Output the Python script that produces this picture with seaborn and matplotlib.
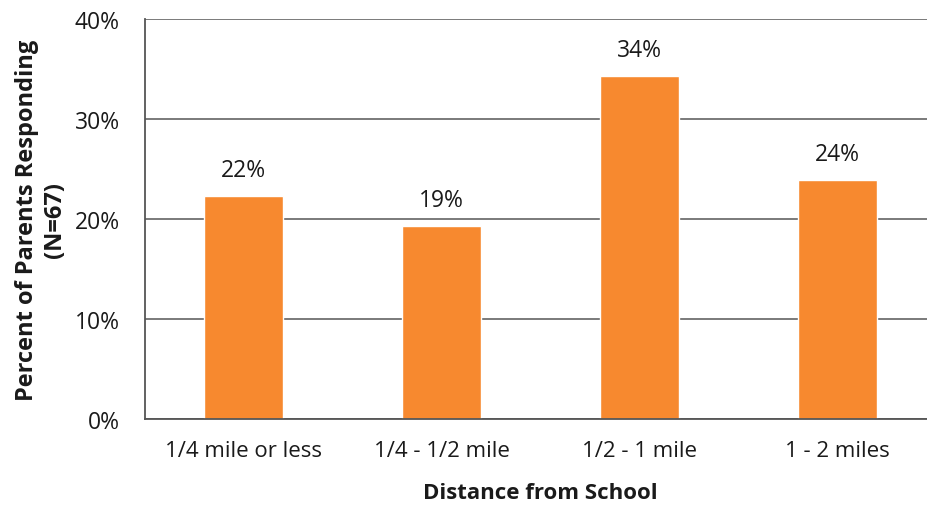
import matplotlib
matplotlib.use("Agg")
import matplotlib.pyplot as plt
import seaborn as sns
import pandas as pd

# Data
categories = ["1/4 mile or less", "1/4 - 1/2 mile", "1/2 - 1 mile", "1 - 2 miles"]
percents = [22.3, 19.3, 34.3, 23.9]
labels = ["22%", "19%", "34%", "24%"]
yticks = [0, 10, 20, 30, 40]

df = pd.DataFrame({"distance": categories, "percent": percents})

sns.set_theme(style="white")
plt.rcParams["font.family"] = ["Open Sans", "DejaVu Sans"]

fig = plt.figure(figsize=(9.27, 5.06), dpi=100)
ax = fig.add_axes([0.1564, 0.170, 0.8533, 0.7905])

sns.barplot(data=df, x="distance", y="percent", color="#F7892F",
            saturation=1, width=0.4, ax=ax)

for i, (v, t) in enumerate(zip(percents, labels)):
    ax.text(i, v + 1.4, t, ha="center", va="bottom", fontsize=16.5, color="#1a1a1a")

ax.set_xlim(-0.5, 3.5)
ax.set_ylim(0, 40)
ax.set_yticks(yticks)
ax.set_yticklabels([f"{t}%" for t in yticks])
ax.yaxis.grid(True, color="#6f6f6f", linewidth=1.3)
ax.set_axisbelow(True)

for s in ["top", "right"]:
    ax.spines[s].set_visible(False)
ax.spines["left"].set_color("#555555")
ax.spines["bottom"].set_color("#555555")
ax.spines["left"].set_linewidth(1.3)
ax.spines["bottom"].set_linewidth(1.3)

ax.tick_params(axis="both", length=0, colors="#1a1a1a")
ax.tick_params(axis="x", pad=15, labelsize=16)
ax.tick_params(axis="y", pad=18, labelsize=16.5)

ax.set_xlabel("Distance from School", fontsize=16, fontweight="bold",
              labelpad=15, color="#1a1a1a")
ax.set_ylabel("Percent of Parents Responding\n(N=67)", fontsize=17,
              fontweight="bold", labelpad=6, linespacing=1.2, color="#1a1a1a")

fig.savefig("out.png", dpi=100)
